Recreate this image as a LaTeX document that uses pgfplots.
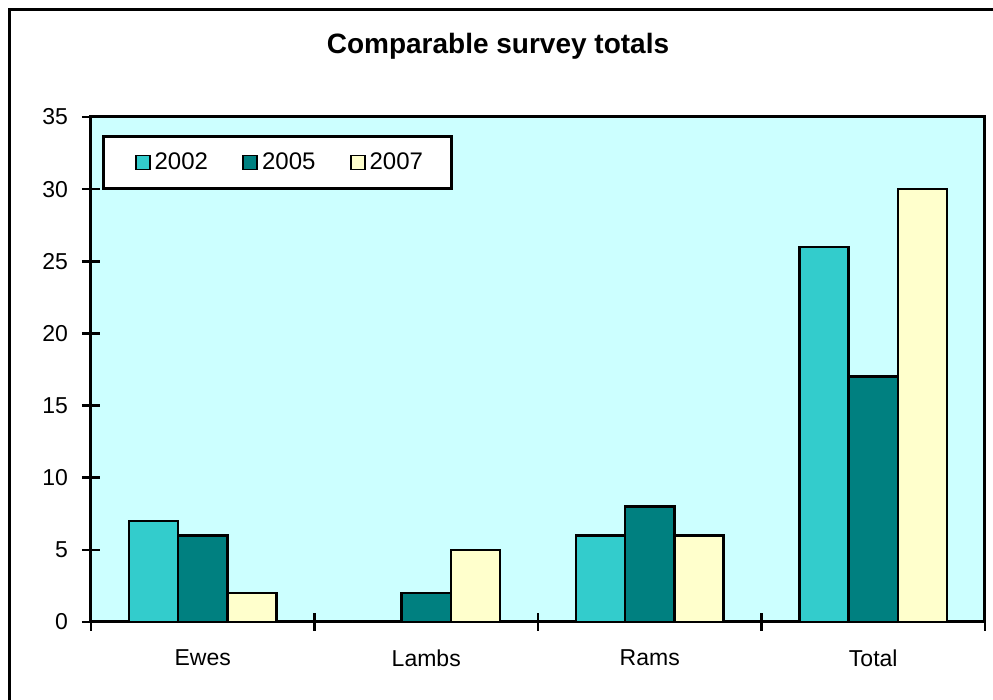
\documentclass[border=0pt]{standalone}
\usepackage{pgfplots}
\pgfplotsset{compat=1.18}
\usepackage{fontspec}
\setmainfont{Liberation Sans}
\definecolor{cA}{HTML}{33CCCC}
\definecolor{cB}{HTML}{008080}
\definecolor{cC}{HTML}{FFFFCC}
\definecolor{bg}{HTML}{CCFFFF}
\begin{document}
\begin{tikzpicture}
\useasboundingbox (0,0) rectangle (496.5pt,350pt);
\fill[white] (0,0) rectangle (496.5pt,350pt);
\draw[line width=1.2pt] (4.75pt,0) -- (4.75pt,345.25pt) -- (496.5pt,345.25pt);
\node[font=\bfseries\fontsize{14}{16}\selectfont] at (249pt,327pt) {Comparable survey totals};
\begin{axis}[
  at={(45.5pt,39pt)}, anchor=south west,
  scale only axis, width=447pt, height=252.5pt,
  ybar=0pt, bar width=0.22,
  xmin=-0.5, xmax=3.5, ymin=0, ymax=35,
  xtick={0,1,2,3}, xticklabels={Ewes,Lambs,Rams,Total},
  major x tick style={draw=none},
  minor xtick={-0.5,0.5,1.5,2.5,3.5},
  minor x tick style={line width=1.3pt, black},
  minor tick length=9pt,
  ytick={0,5,...,35},
  major tick length=9pt,
  tick align=center,
  xtick pos=bottom, ytick pos=left,
  axis line style={line width=1.5pt},
  y tick style={line width=1.3pt, black},
  /pgf/number format/assume math mode=true,
  tick label style={font=\fontsize{11.5}{13}\selectfont},
  xticklabel style={yshift=-6pt},
  yticklabel style={xshift=-3.5pt},
  axis background/.style={fill=bg},
  every axis plot/.append style={draw=black, line width=1.3pt},
  legend columns=3,
  legend style={at={(0.0123,0.964)}, anchor=north west, draw=black, line width=1.5pt,
    font=\fontsize{12}{14}\selectfont, inner xsep=12.5pt, inner ysep=6pt,
    /tikz/every even column/.append style={column sep=12pt},
    /tikz/every odd column/.append style={column sep=0pt}},
  legend image code/.code={\path (-3pt,0pt); \draw[#1, line width=0.8pt] (0pt,-3.5pt) rectangle (7pt,3.5pt);},
]
\addplot[fill=cA] coordinates {(0,7) (1,0) (2,6) (3,26)};
\addplot[fill=cB] coordinates {(0,6) (1,2) (2,8) (3,17)};
\addplot[fill=cC] coordinates {(0,2) (1,5) (2,6) (3,30)};
\legend{2002,2005,2007}
\end{axis}
\end{tikzpicture}
\end{document}
